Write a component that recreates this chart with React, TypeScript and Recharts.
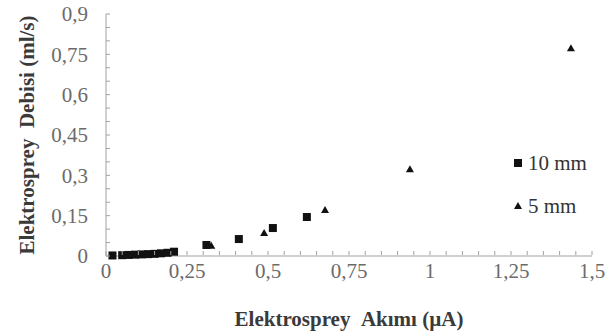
import React from 'react';
import { ScatterChart, Scatter, XAxis, YAxis, Label } from 'recharts';

const series10mmX = [0.02, 0.05, 0.07, 0.09, 0.11, 0.13, 0.15, 0.17, 0.19, 0.21, 0.31, 0.41, 0.515, 0.62];
const series10mmY = [0.002, 0.003, 0.004, 0.005, 0.006, 0.007, 0.008, 0.01, 0.012, 0.016, 0.041, 0.063, 0.104, 0.145];
const series5mmX = [0.1, 0.16, 0.325, 0.488, 0.676, 0.938, 1.435];
const series5mmY = [0.005, 0.008, 0.038, 0.086, 0.171, 0.323, 0.773];

const xTicks = [0, 0.05, 0.1, 0.15, 0.2, 0.25, 0.3, 0.35, 0.4, 0.45, 0.5, 0.55, 0.6, 0.65, 0.7, 0.75, 0.8, 0.85, 0.9, 0.95, 1, 1.05, 1.1, 1.15, 1.2, 1.25, 1.3, 1.35, 1.4, 1.45, 1.5];
const xLabels = [0, 0.25, 0.5, 0.75, 1, 1.25, 1.5];
const yTicks = [0, 0.05, 0.1, 0.15, 0.2, 0.25, 0.3, 0.35, 0.4, 0.45, 0.5, 0.55, 0.6, 0.65, 0.7, 0.75, 0.8, 0.85, 0.9];
const yLabels = [0, 0.15, 0.3, 0.45, 0.6, 0.75, 0.9];

const seriesNames = ['10 mm', '5 mm'];
const xTitle = 'Elektrosprey\u00A0\u00A0Akımı (µA)';
const yTitle = 'Elektrosprey\u00A0\u00A0Debisi (ml/s)';

const data10 = series10mmX.map((x, i) => ({ x, y: series10mmY[i] }));
const data5 = series5mmX.map((x, i) => ({ x, y: series5mmY[i] }));

const AXIS = '#a0a0a0';
const TICKTXT = '#6b6b6b';
const TITLE = '#3a3a3a';
const FONT = '"Liberation Serif", "Times New Roman", serif';

const fmt = (v: number) => String(v).replace('.', ',');
const isLabel = (v: number, list: number[]) => list.some((l) => Math.abs(l - v) < 1e-9);

const XTick = (props: any) => {
  const { x, y, payload } = props;
  const v = payload.value;
  return (
    <g>
      <line x1={x} x2={x} y1={y - 8} y2={y - 12} stroke={AXIS} strokeWidth={1} />
      {isLabel(v, xLabels) && (
        <text x={x} y={y} dy="0.71em" textAnchor="middle" fill={TICKTXT} fontSize={21} fontFamily={FONT}>
          {fmt(v)}
        </text>
      )}
    </g>
  );
};

const YTick = (props: any) => {
  const { x, y, payload } = props;
  const v = payload.value;
  return (
    <g>
      <line x1={x + 18} x2={x + 22} y1={y} y2={y} stroke={AXIS} strokeWidth={1} />
      {isLabel(v, yLabels) && (
        <text x={x} y={y} dy="0.355em" textAnchor="end" fill={TICKTXT} fontSize={21} fontFamily={FONT}>
          {fmt(v)}
        </text>
      )}
    </g>
  );
};

const SquareShape = (props: any) => {
  const { cx, cy } = props;
  return <rect x={cx - 4} y={cy - 4} width={8} height={8} fill="#111" />;
};

const TriangleShape = (props: any) => {
  const { cx, cy } = props;
  return <path d={`M${cx},${cy - 4} L${cx + 4},${cy + 3} L${cx - 4},${cy + 3} Z`} fill="#111" />;
};

const YTitle = (props: any) => {
  const vb = props.viewBox || {};
  const cx = 27;
  const cy = vb.y + vb.height / 2;
  return (
    <text
      x={cx}
      y={cy}
      transform={`rotate(-90, ${cx}, ${cy})`}
      textAnchor="middle"
      dominantBaseline="central"
      fill={TITLE}
      fontSize={21}
      fontWeight="bold"
      fontFamily={FONT}
    >
      {yTitle}
    </text>
  );
};

const Legendish = () => (
  <div
    style={{
      position: 'absolute',
      left: 512,
      top: 153,
      fontFamily: FONT,
      fontSize: 21,
      color: '#333',
      lineHeight: '20px',
    }}
  >
    <div style={{ display: 'flex', alignItems: 'center', height: 20 }}>
      <svg width={12} height={12} style={{ marginRight: 4 }}>
        <rect x={2} y={2} width={8} height={8} fill="#111" />
      </svg>
      <span>{seriesNames[0]}</span>
    </div>
    <div style={{ display: 'flex', alignItems: 'center', height: 20, marginTop: 23 }}>
      <svg width={12} height={12} style={{ marginRight: 4 }}>
        <path d="M6,2 L10,9 L2,9 Z" fill="#111" />
      </svg>
      <span>{seriesNames[1]}</span>
    </div>
  </div>
);

export default function App() {
  return (
    <div style={{ position: 'absolute', left: 0, top: 0, width: 610, height: 331, background: '#fff' }}>
      <ScatterChart width={610} height={331} margin={{ top: 14, right: 18, bottom: 0, left: 0 }}>
        <XAxis
          type="number"
          dataKey="x"
          domain={[0, 1.5]}
          ticks={xTicks}
          interval={0}
          tickSize={0}
          tickMargin={7}
          tick={<XTick />}
          height={75}
          axisLine={{ stroke: AXIS }}
          tickLine={false}
        >
          <Label
            value={xTitle}
            position="insideBottom"
            offset={5}
            fill={TITLE}
            fontSize={21}
            fontWeight="bold"
            fontFamily={FONT}
          />
        </XAxis>
        <YAxis
          type="number"
          dataKey="y"
          domain={[0, 0.9]}
          ticks={yTicks}
          interval={0}
          tickSize={0}
          tickMargin={18}
          tick={<YTick />}
          width={106}
          axisLine={{ stroke: AXIS }}
          tickLine={false}
        >
          <Label content={<YTitle />} />
        </YAxis>
        <Scatter name={seriesNames[0]} data={data10} shape={<SquareShape />} isAnimationActive={false} />
        <Scatter name={seriesNames[1]} data={data5} shape={<TriangleShape />} isAnimationActive={false} />
      </ScatterChart>
      <Legendish />
    </div>
  );
}
